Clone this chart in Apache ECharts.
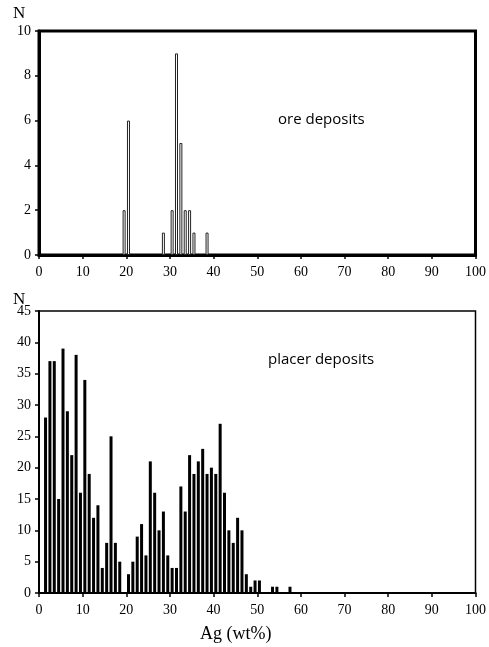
<!DOCTYPE html>
<html><head><meta charset="utf-8">
<script src="https://cdn.jsdelivr.net/npm/echarts@6/dist/echarts.min.js"></script>
<style>html,body{margin:0;padding:0;background:#fff}#c{width:489px;height:647px}</style>
</head><body><div id="c"></div>
<script>
// Top: ore deposits (bin centres, counts)
const oreX = [19.5, 20.5, 28.5, 30.5, 31.5, 32.5, 33.5, 34.5, 35.5, 38.5];
const oreN = [2, 6, 1, 2, 9, 5, 2, 2, 1, 1];
// Bottom: placer deposits (bin centres 1.5 .. 57.5)
const placerX = [1.5,2.5,3.5,4.5,5.5,6.5,7.5,8.5,9.5,10.5,11.5,12.5,13.5,14.5,15.5,16.5,17.5,18.5,19.5,
  20.5,21.5,22.5,23.5,24.5,25.5,26.5,27.5,28.5,29.5,30.5,31.5,32.5,33.5,34.5,35.5,36.5,37.5,38.5,39.5,
  40.5,41.5,42.5,43.5,44.5,45.5,46.5,47.5,48.5,49.5,50.5,51.5,52.5,53.5,54.5,55.5,56.5,57.5];
const placerN = [28,37,37,15,39,29,22,38,16,34,19,12,14,4,8,25,8,5,0,
  3,5,9,11,6,21,16,10,13,6,4,4,17,13,22,19,21,23,19,20,
  19,27,16,10,8,12,10,3,1,2,2,0,0,1,1,0,0,1];
const xTicks = [0,10,20,30,40,50,60,70,80,90,100];
const oreYMax = 10, placerYMax = 45;

const serif = '"Liberation Serif", serif';
const lblRich = {t:{fontFamily:serif, fontSize:14, color:'#000'}};

const chart = echarts.init(document.getElementById('c'), null, {renderer:'canvas'});
function xAxis(gi, lw){
  return {type:'value', gridIndex:gi, min:0, max:100, interval:10,
    axisLine:{show:true, onZero:false, lineStyle:{color:'#000', width:lw}},
    axisTick:{show:true, length:4, lineStyle:{color:'#000', width:1.5}},
    axisLabel:{color:'#000', fontFamily:serif, fontSize:14, margin:10, rich:lblRich,
      formatter: v => xTicks.includes(v) ? '{t|' + v + '}' : ''},
    splitLine:{show:false}};
}
function yAxis(gi, max, iv, lw){
  return {type:'value', gridIndex:gi, min:0, max:max, interval:iv,
    axisLine:{show:true, lineStyle:{color:'#000', width:lw}},
    axisTick:{show:true, length:4, lineStyle:{color:'#000', width:1.5}},
    axisLabel:{color:'#000', fontFamily:serif, fontSize:14, margin:8, rich:lblRich,
      formatter: v => '{t|' + v + '}'},
    splitLine:{show:false}};
}
chart.setOption({
  animation:false,
  textStyle:{fontFamily:serif},
  grid:[
    {left:39, right:11, top:31, height:224, show:true, borderColor:'#000', borderWidth:3, backgroundColor:'transparent'},
    {left:39, right:10, top:311, height:282, show:true, borderColor:'#000', borderWidth:1.5, backgroundColor:'transparent'}
  ],
  xAxis:[xAxis(0,3), xAxis(1,2)],
  yAxis:[yAxis(0,oreYMax,2,3), yAxis(1,placerYMax,5,2)],
  series:[
    {type:'bar', xAxisIndex:0, yAxisIndex:0, barWidth:3,
     data: oreX.map((x,i)=>[x, oreN[i]]),
     itemStyle:{color:'#fff', borderColor:'#222', borderWidth:1}},
    {type:'bar', xAxisIndex:1, yAxisIndex:1, barWidth:3,
     data: placerX.map((x,i)=>[x, placerN[i]]),
     itemStyle:{color:'#000'}}
  ],
  graphic:[
    {type:'text', left:13, top:5, style:{text:'N', font:'17px "Liberation Serif"', fill:'#000'}},
    {type:'text', left:13, top:291, style:{text:'N', font:'17px "Liberation Serif"', fill:'#000'}},
    {type:'text', left:278, top:112, style:{text:'ore deposits', font:'15px "Open Sans"', fill:'#000'}},
    {type:'text', left:268, top:352, style:{text:'placer deposits', font:'15px "Open Sans"', fill:'#000'}},
    {type:'text', left:200, top:625, style:{text:'Ag (wt%)', font:'18px "Liberation Serif"', fill:'#000'}}
  ]
});
</script></body></html>
